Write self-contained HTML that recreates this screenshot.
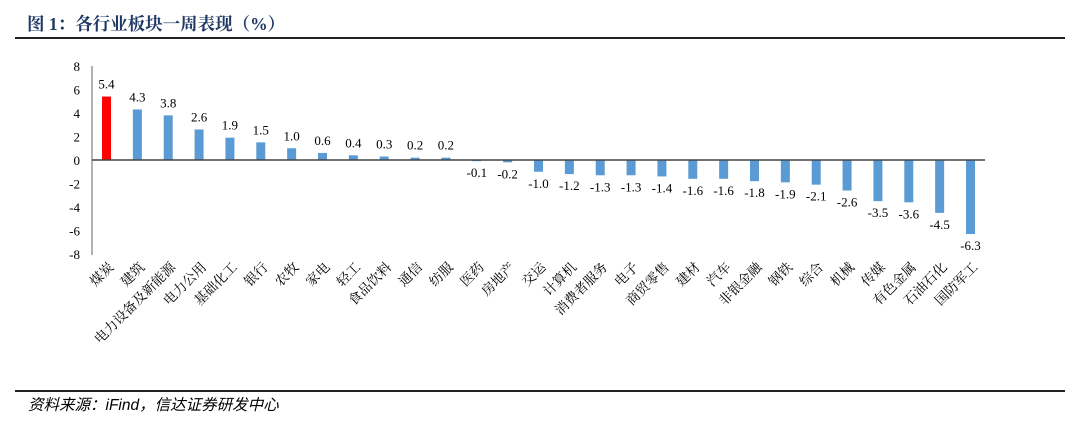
<!DOCTYPE html>
<html><head><meta charset="utf-8"><style>
body{margin:0;width:1080px;height:422px;background:#fff;overflow:hidden}
svg{display:block}
</style></head><body>
<svg id="s" width="1080" height="422" xmlns="http://www.w3.org/2000/svg">
<text x="27" y="30" font-size="17.5" font-weight="bold" fill="#1f3864" font-family="Liberation Serif, Noto Serif CJK SC, serif">图 1：各行业板块一周表现（%）</text>
<rect x="15" y="37" width="1050" height="2" fill="#222"/>
<rect x="15" y="390" width="1050" height="2" fill="#222"/>
<text x="28" y="410" font-size="15.5" font-style="italic" fill="#000" font-family="Liberation Sans, Noto Sans CJK SC, sans-serif">资料来源：iFind，信达证券研发中心</text>
<line x1="92" y1="66" x2="92" y2="255" stroke="#666" stroke-width="1"/>
<g id="g"></g>
</svg>
<script>
var names=["煤炭","建筑","电力设备及新能源","电力公用","基础化工","银行","农牧","家电","轻工","食品饮料","通信","纺服","医药","房地产","交运","计算机","消费者服务","电子","商贸零售","建材","汽车","非银金融","钢铁","综合","机械","传媒","有色金属","石油石化","国防军工"];
var vals=[5.4,4.3,3.8,2.6,1.9,1.5,1.0,0.6,0.4,0.3,0.2,0.2,-0.1,-0.2,-1.0,-1.2,-1.3,-1.3,-1.4,-1.6,-1.6,-1.8,-1.9,-2.1,-2.6,-3.5,-3.6,-4.5,-6.3];
var n=vals.length,x0=106.5,x1=970.5,dx=(x1-x0)/(n-1),z=160,k=11.75,h='';
var F='font-family="Liberation Serif, Noto Serif CJK SC, serif"';
for(var t=-8;t<=8;t+=2){h+='<text x="80" y="'+(z-t*k+5)+'" font-size="13" text-anchor="end" '+F+'>'+t+'</text>';}
for(var i=0;i<n;i++){var c=x0+i*dx,v=vals[i],y=v>=0?z-v*k:z,hh=Math.abs(v)*k;
h+='<rect x="'+(c-4.5)+'" y="'+y+'" width="9" height="'+hh+'" fill="'+(i==0?'#ff0000':'#5b9bd5')+'"/>';
var ly=v>=0?z-v*k-8:z-v*k+16;
h+='<text x="'+c+'" y="'+ly+'" font-size="13" text-anchor="middle" '+F+'>'+v.toFixed(1)+'</text>';
h+='<text transform="translate('+(c+8)+',268) rotate(-45)" font-size="13.5" text-anchor="end" '+F+'>'+names[i]+'</text>';}
h+='<line x1="92" y1="160" x2="985" y2="160" stroke="#444" stroke-width="1.5"/>';
document.getElementById('g').innerHTML=h;
</script>
</body></html>
